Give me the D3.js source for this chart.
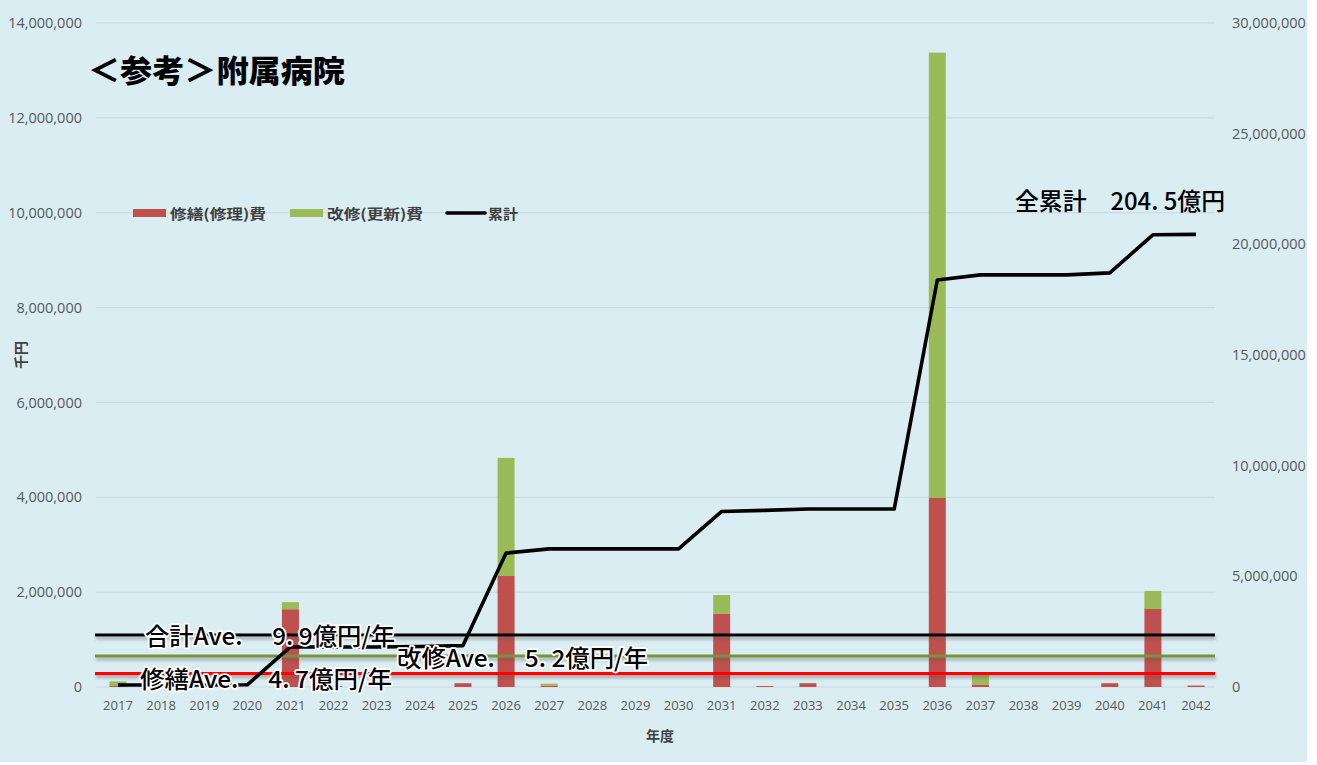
<!DOCTYPE html>
<html><head><meta charset="utf-8">
<script src="https://cdn.jsdelivr.net/npm/d3@7"></script>
<style>body{margin:0;background:#fff;} svg{display:block;}</style>
</head><body>
<svg id="c" width="1317" height="765"></svg>
<script>
// ---- data (千円) ----
const years = ["2017","2018","2019","2020","2021","2022","2023","2024","2025","2026","2027","2028","2029","2030","2031","2032","2033","2034","2035","2036","2037","2038","2039","2040","2041","2042"];
const repairCost = [20000,50000,0,0,1640000,20000,0,0,80000,2340000,30000,0,0,0,1540000,20000,80000,0,0,3985000,50000,0,0,80000,1645000,30000];
const renewalCost = [100000,0,0,0,150000,0,0,0,0,2490000,40000,0,0,0,400000,0,0,0,0,9390000,220000,0,0,0,380000,0];
const cumulative = [90000,90000,90000,100000,1810000,1810000,1810000,1830000,1870000,6050000,6240000,6240000,6240000,6240000,7930000,7980000,8040000,8040000,8040000,18390000,18620000,18620000,18620000,18710000,20430000,20450000];
const leftTicks = [0,2000000,4000000,6000000,8000000,10000000,12000000,14000000];
const rightTicks = [0,5000000,10000000,15000000,20000000,25000000,30000000];
const aveNames = ["合計Ave.　 9. 9億円/年","改修Ave.　 5. 2億円/年","修繕Ave.　 4. 7億円/年"];
const aveValues = [1096000,654000,280000];
const seriesNames = ["修繕(修理)費","改修(更新)費","累計"];
const title = "＜参考＞附属病院";
const totalLabel = "全累計　204. 5億円";

// ---- chart ----
const svg = d3.select("#c");
const defs = svg.append("defs");
const f = defs.append("filter").attr("id","sh").attr("filterUnits","userSpaceOnUse")
  .attr("x",0).attr("y",0).attr("width",1317).attr("height",765);
f.append("feDropShadow").attr("dx",1).attr("dy",3).attr("stdDeviation",1.5).attr("flood-color","#555").attr("flood-opacity",0.4);

svg.append("rect").attr("x",0).attr("y",0).attr("width",1307).attr("height",762).attr("fill","#daedf2");

const x = d3.scaleBand().domain(years).range([96.4,1217.6]).padding(0);
const yL = d3.scaleLinear().domain([0,14000000]).range([687,23]);
const yR = d3.scaleLinear().domain([0,30000000]).range([687,23]);
const fmt = d3.format(",");
const tickFont = "'Open Sans', sans-serif";

// gridlines
svg.append("g").selectAll("line").data(leftTicks).join("line")
  .attr("x1",96).attr("x2",1215).attr("y1",d=>yL(d)).attr("y2",d=>yL(d))
  .attr("stroke","#c9d9df").attr("stroke-width",1);

// left axis
const gl = svg.append("g").attr("transform","translate(84,0)")
  .call(d3.axisLeft(yL).tickValues(leftTicks).tickFormat(fmt).tickSize(0).tickPadding(2));
gl.select(".domain").remove();
gl.selectAll("text").attr("font-family",tickFont).attr("font-size",14.5).attr("fill","#595959");

// right axis
const gr = svg.append("g").attr("transform","translate(1231,0)")
  .call(d3.axisRight(yR).tickValues(rightTicks).tickFormat(fmt).tickSize(0).tickPadding(1));
gr.select(".domain").remove();
gr.selectAll("text").attr("font-family",tickFont).attr("font-size",14.5).attr("fill","#595959");

// bottom axis
const gb = svg.append("g").attr("transform","translate(0,698)")
  .call(d3.axisBottom(x).tickSize(0).tickPadding(3));
gb.select(".domain").remove();
gb.selectAll("text").attr("font-family",tickFont).attr("font-size",13).attr("fill","#595959");

// bars
const bw = 17;
const bars = svg.append("g");
bars.selectAll(".r").data(years).join("rect").attr("class","r")
  .attr("x",(d)=>x(d)+x.bandwidth()/2-bw/2).attr("width",bw)
  .attr("y",(d,i)=>yL(repairCost[i])).attr("height",(d,i)=>yL(0)-yL(repairCost[i]))
  .attr("fill","#c0504d");
bars.selectAll(".g").data(years).join("rect").attr("class","g")
  .attr("x",(d)=>x(d)+x.bandwidth()/2-bw/2).attr("width",bw)
  .attr("y",(d,i)=>yL(repairCost[i]+renewalCost[i])).attr("height",(d,i)=>yL(repairCost[i])-yL(repairCost[i]+renewalCost[i]))
  .attr("fill","#9bbb59");

// average lines
const aveColors = ["#000000","#77933c","#ff0000"];
svg.append("g").selectAll("line").data(aveValues).join("line")
  .attr("x1",95).attr("x2",1215).attr("y1",d=>yL(d)).attr("y2",d=>yL(d))
  .attr("stroke",(d,i)=>aveColors[i]).attr("stroke-width",3.2).attr("filter","url(#sh)");

// cumulative line
const line = d3.line().x((d,i)=>x(years[i])+x.bandwidth()/2).y(d=>yR(d));
svg.append("path").datum(cumulative).attr("d",line)
  .attr("fill","none").attr("stroke","#000").attr("stroke-width",3.6).attr("stroke-linejoin","round");

// average labels (white halo)
const jp = "'Noto Sans CJK JP', sans-serif";
const avePos = [[145,634,250],[397,656,251],[140,677,252]];
svg.append("g").selectAll("text").data(aveNames).join("text")
  .attr("x",(d,i)=>avePos[i][0]).attr("y",(d,i)=>avePos[i][1])
  .attr("dominant-baseline","central")
  .attr("textLength",(d,i)=>avePos[i][2]).attr("lengthAdjust","spacingAndGlyphs")
  .attr("font-family",jp).attr("font-size",24).attr("font-weight",500)
  .attr("fill","#000").attr("stroke","#fff").attr("stroke-width",3.5).attr("paint-order","stroke")
  .attr("stroke-linejoin","round")
  .text(d=>d);

// total label
svg.append("text").attr("x",1015).attr("y",199).attr("dominant-baseline","central")
  .attr("textLength",210).attr("lengthAdjust","spacingAndGlyphs")
  .attr("font-family",jp).attr("font-size",24).attr("font-weight",500).attr("fill","#000")
  .text(totalLabel);

// title
svg.append("text").attr("x",88).attr("y",68).attr("dominant-baseline","central")
  .attr("textLength",257).attr("lengthAdjust","spacingAndGlyphs")
  .attr("font-family",jp).attr("font-size",31).attr("font-weight",900).attr("fill","#000")
  .text(title);

// legend
const lg = svg.append("g").attr("font-family",jp).attr("font-size",14).attr("font-weight",700).attr("fill","#404040");
const legX = [133,290,447];
const legTextLen = [96,96,30];
seriesNames.forEach((n,i)=>{
  if(i<2){
    lg.append("rect").attr("x",legX[i]).attr("y",209).attr("width",33).attr("height",8).attr("fill",i===0?"#c0504d":"#9bbb59");
  } else {
    lg.append("line").attr("x1",legX[i]).attr("x2",legX[i]+38).attr("y1",213).attr("y2",213).attr("stroke","#000").attr("stroke-width",3.6).attr("stroke-linecap","round");
  }
  lg.append("text").attr("x",legX[i]+(i<2?37:41)).attr("y",213).attr("dominant-baseline","central")
    .attr("textLength",legTextLen[i]).attr("lengthAdjust","spacingAndGlyphs").text(n);
});

// axis titles
svg.append("text").attr("transform","translate(20,355) rotate(-90)").attr("text-anchor","middle")
  .attr("dominant-baseline","central").attr("font-family",jp).attr("font-size",14).attr("font-weight",700).attr("fill","#404040").text("千円");
svg.append("text").attr("x",660).attr("y",735).attr("text-anchor","middle")
  .attr("dominant-baseline","central").attr("font-family",jp).attr("font-size",14).attr("font-weight",700).attr("fill","#404040").text("年度");
</script>
</body></html>
